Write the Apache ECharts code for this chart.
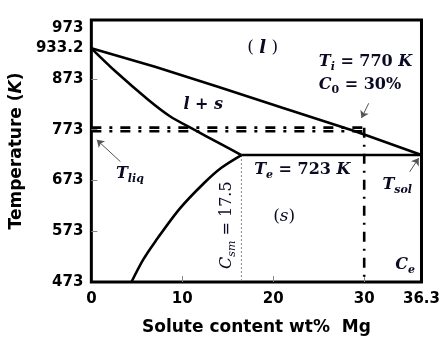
<!DOCTYPE html>
<html>
<head>
<meta charset="utf-8">
<script src="https://cdn.jsdelivr.net/npm/echarts@6/dist/echarts.min.js"></script>
<style>html,body{margin:0;padding:0;background:#fff;}#c{width:443px;height:341px;}</style>
</head>
<body>
<div id="c"></div>
<script>
// ---- data (wt% Mg, temperature K) ----
const xTickValues = [10, 20, 30];
const xLabelValues = [0, 10, 20, 30, 36.3];
const yTickValues = [573, 673, 773, 873];
const yLabelValues = [473, 573, 673, 773, 873, 933.2, 973];

const liquidusX = [0, 7, 14, 21, 29, 36.3];
const liquidusT = [933.2, 897, 857, 816, 770, 723];

const solidusX = [0, 2.7, 6.25, 8.6, 11.3, 14.0, 16.5];
const solidusT = [933.2, 887, 832, 800, 773, 747, 723];

const solvusX = [4.41, 5.7, 7.0, 9.7, 12.4, 14.3, 16.5];
const solvusT = [473, 517, 552, 617, 668, 698, 723];

const eutecticX = [16.5, 36.3];
const eutecticT = [723, 723];

const Tliq = 777;
const Ti = 770;
const C0 = 30;
const Csm = 16.5;
const Te = 723;
const Tmin = 473;

// annotation anchors [x, T]
const annLiquid = [18.85, 934];
const annTi = [25.0, 906];
const annC0 = [25.0, 861];
const annLS = [12.3, 822];
const annTliq = [2.7, 686];
const annTe = [17.9, 694];
const annTsol = [32.0, 664];
const annSolid = [21.2, 601];
const annCe = [34.5, 506];
const annCsm = [14.9, 585];

// arrows [[from],[to]]
const arrowC0 = [[30.5, 825], [29.7, 796]];
const arrowTliq = [[3.2, 710], [0.6, 753]];
const arrowTsol = [[35.0, 690], [36.0, 717]];

const zip = (a, b) => a.map((v, i) => [v, b[i]]);

const ink = '#0a0a22';
const ser = 'DejaVu Serif';
const base = {color: ink, textBorderWidth: 0, textBorderColor: 'transparent', fontFamily: ser};
const rich = {
  it: Object.assign({}, base, {fontStyle: 'italic', fontWeight: 'bold', fontSize: 16}),
  rm: Object.assign({}, base, {fontWeight: 'bold', fontSize: 16}),
  sub: Object.assign({}, base, {fontStyle: 'italic', fontWeight: 'bold', fontSize: 11, padding: [10, 0, 0, 0]}),
  subr: Object.assign({}, base, {fontWeight: 'bold', fontSize: 11, padding: [10, 0, 0, 0]}),
  itn: Object.assign({}, base, {fontStyle: 'italic', fontSize: 17}),
  itb: Object.assign({}, base, {fontStyle: 'italic', fontWeight: 'bold', fontSize: 18}),
  rmn: Object.assign({}, base, {fontSize: 17}),
  itc: Object.assign({}, base, {fontStyle: 'italic', fontSize: 16}),
  rmc: Object.assign({}, base, {fontSize: 16}),
  subc: Object.assign({}, base, {fontStyle: 'italic', fontSize: 11, padding: [10, 0, 0, 0]})
};

function ann(pos, text, align, rotate) {
  return {value: pos, itemStyle: {opacity: 1}, label: {show: true, position: 'inside', formatter: text, align: align || 'left', verticalAlign: 'middle',
    rotate: rotate || 0, color: ink, opacity: 1, textBorderWidth: 0, textBorderColor: 'transparent', rich: rich}};
}

const annotations = [
  ann(annLiquid, '{rmn|( }{itb|l}{rmn| )}', 'center'),
  ann(annTi, '{it|T}{sub|i}{rm| = 770 }{it|K}'),
  ann(annC0, '{it|C}{subr|0}{rm| = 30%}'),
  ann(annLS, '{it|l}{rm| + }{it|s}', 'center'),
  ann(annTliq, '{it|T}{sub|liq}'),
  ann(annTe, '{it|T}{sub|e}{rm| = 723 }{it|K}'),
  ann(annTsol, '{it|T}{sub|sol}'),
  ann(annSolid, '{rmn|(}{itn|s}{rmn|)}', 'center'),
  ann(annCe, '{it|C}{sub|e}', 'center'),
  ann(annCsm, '{itc|C}{subc|sm}{rmc| = 17.5}', 'center', 90)
];

const black = {color: '#000', width: 2.6};

const option = {
  animation: false,
  backgroundColor: '#fff',
  grid: {left: 85, right: 21, top: 20, bottom: 59, show: true, borderColor: '#000', borderWidth: 3},
  xAxis: {
    type: 'value', min: 0, max: 36.3,
    axisLine: {show: false}, splitLine: {show: false},
    axisTick: {show: true, inside: true, length: 6, lineStyle: {color: '#888', width: 1}, customValues: xTickValues},
    axisLabel: {customValues: xLabelValues, fontFamily: 'DejaVu Sans', fontWeight: 'bold', fontSize: 15, color: '#000', margin: 10, formatter: v => String(v)},
    name: 'Solute content wt%  Mg', nameLocation: 'middle', nameGap: 37,
    nameTextStyle: {fontFamily: 'DejaVu Sans', fontWeight: 'bold', fontSize: 17, color: '#000'}
  },
  yAxis: {
    type: 'value', min: 473, max: 989,
    axisLine: {show: false}, splitLine: {show: false},
    axisTick: {show: true, inside: true, length: 6, lineStyle: {color: '#888', width: 1}, customValues: yTickValues},
    axisLabel: {customValues: yLabelValues, fontFamily: 'DejaVu Sans', fontWeight: 'bold', fontSize: 15, color: '#000', margin: 8, formatter: v => String(v)},
    name: '{n|Temperature (}{k|K}{n|)}', nameLocation: 'middle', nameGap: 46,
    nameTextStyle: {rich: {
      n: {fontFamily: 'DejaVu Sans', fontWeight: 'bold', fontSize: 17, color: '#000'},
      k: {fontFamily: 'DejaVu Sans', fontWeight: 'bold', fontStyle: 'italic', fontSize: 17, color: '#000'}
    }}
  },
  series: [
    {type: 'line', name: 'liquidus', data: zip(liquidusX, liquidusT), showSymbol: false, lineStyle: black, z: 5},
    {type: 'line', name: 'solidus', data: zip(solidusX, solidusT), smooth: 0.3, showSymbol: false, lineStyle: black, z: 5},
    {type: 'line', name: 'solvus', data: zip(solvusX, solvusT), smooth: 0.3, showSymbol: false, lineStyle: black, z: 5},
    {type: 'line', name: 'eutectic', data: zip(eutecticX, eutecticT), showSymbol: false, lineStyle: black, z: 5},
    {type: 'line', name: 'Tliq', data: [[0, Tliq], [C0, Tliq]], showSymbol: false, lineStyle: {color: '#000', width: 2.6, type: [10, 8, 3, 8]}, z: 4},
    {type: 'line', name: 'Ti', data: [[0, Ti], [C0, Ti]], showSymbol: false, lineStyle: {color: '#000', width: 2.6, type: [10, 8, 3, 8]}, z: 4},
    {type: 'line', name: 'C0', data: [[C0, Tliq], [C0, Tmin]], showSymbol: false, lineStyle: {color: '#000', width: 2.6, type: [10, 7, 2, 7]}, z: 4},
    {type: 'line', name: 'Csm', data: [[Csm, Te], [Csm, Tmin]], showSymbol: false, lineStyle: {color: '#888', width: 1, type: [2, 2]}, z: 3},
    {type: 'lines', coordinateSystem: 'cartesian2d', symbol: ['none', 'arrow'], symbolSize: 7,
      lineStyle: {color: '#555', width: 1, opacity: 1},
      data: [{coords: arrowC0}, {coords: arrowTliq}, {coords: arrowTsol}], z: 6},
    {type: 'scatter', symbolSize: 0, itemStyle: {opacity: 1}, data: annotations, z: 7, silent: true}
  ]
};

const chart = echarts.init(document.getElementById('c'), null, {renderer: 'canvas'});
chart.setOption(option);
</script>
</body>
</html>
